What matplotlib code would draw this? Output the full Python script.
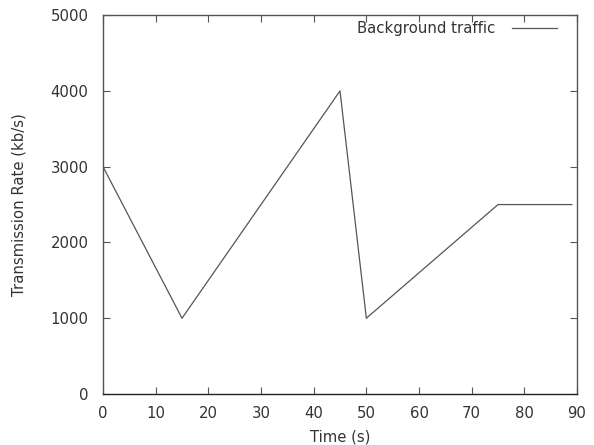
import matplotlib
matplotlib.use("Agg")
import matplotlib.pyplot as plt

# background traffic profile
time_s = [0, 15, 45, 50, 75, 89]
rate_kbs = [3000, 1000, 4000, 1000, 2500, 2500]
xticks = [0, 10, 20, 30, 40, 50, 60, 70, 80, 90]
yticks = [0, 1000, 2000, 3000, 4000, 5000]

fs = 10.7
plt.rcParams['font.family'] = 'DejaVu Sans'
fig = plt.figure(figsize=(5.94, 4.45), dpi=100)
ax = fig.add_axes([0.1734, 0.1146, 0.798, 0.8514])

ax.plot(time_s, rate_kbs, color='#555555', linewidth=0.9, label='Background traffic')

ax.set_xlim(0, 90)
ax.set_ylim(0, 5000)
ax.set_xticks(xticks)
ax.set_yticks(yticks)
ax.tick_params(direction='in', top=True, right=True, length=5, width=0.8,
               labelsize=fs, colors='#555555')
ax.tick_params(axis='x', pad=8.5)
ax.tick_params(axis='y', pad=10.5)
ax.tick_params(labelcolor='#333333')
for side in ax.spines.values():
    side.set_color('#555555')
    side.set_linewidth(1.0)
ax.spines['bottom'].set_color('#222222')

ax.set_xlabel('Time (s)', fontsize=fs, color='#333333', labelpad=6)
ax.set_ylabel('Transmission Rate (kb/s)', fontsize=fs, color='#333333', labelpad=17.5)

leg = ax.legend(loc='upper right', bbox_to_anchor=(0.9696, 1.0), frameon=False,
                markerfirst=False, fontsize=fs, handlelength=3.0,
                handletextpad=1.1, borderaxespad=0)
for t in leg.get_texts():
    t.set_color('#333333')

fig.savefig('out.png', dpi=100)
